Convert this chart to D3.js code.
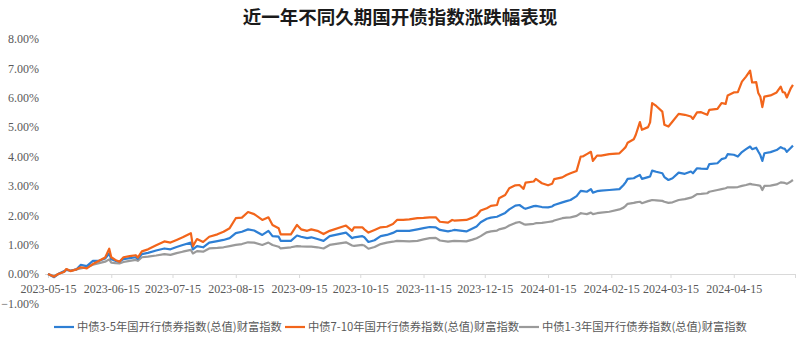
<!DOCTYPE html>
<html><head><meta charset="utf-8">
<script src="https://cdn.jsdelivr.net/npm/d3@7"></script>
<style>
html,body{margin:0;padding:0;background:#fff;}
svg{display:block;}
</style></head>
<body>
<svg id="chart" width="800" height="347"></svg>
<script>
const title = "近一年不同久期国开债指数涨跌幅表现";
const seriesNames = ["中债3-5年国开行债券指数(总值)财富指数","中债7-10年国开行债券指数(总值)财富指数","中债1-3年国开行债券指数(总值)财富指数"];
const seriesColors = ["#2E7FD4","#F2651B","#9A9A9A"];
const yTicks = [-1,0,1,2,3,4,5,6,7,8];
const xTickLabels = ["2023-05-15","2023-06-15","2023-07-15","2023-08-15","2023-09-15","2023-10-15","2023-11-15","2023-12-15","2024-01-15","2024-02-15","2024-03-15","2024-04-15","2024-05-15"];
const dates = ["2023-05-15","2023-05-18","2023-05-20","2023-05-23","2023-05-24","2023-05-26","2023-05-29","2023-05-31","2023-06-03","2023-06-06","2023-06-09","2023-06-12","2023-06-14","2023-06-15","2023-06-17","2023-06-19","2023-06-21","2023-06-24","2023-06-27","2023-06-28","2023-06-30","2023-07-03","2023-07-07","2023-07-11","2023-07-14","2023-07-17","2023-07-20","2023-07-24","2023-07-25","2023-07-27","2023-07-30","2023-08-02","2023-08-06","2023-08-09","2023-08-12","2023-08-15","2023-08-18","2023-08-21","2023-08-24","2023-08-28","2023-08-31","2023-09-02","2023-09-05","2023-09-06","2023-09-11","2023-09-14","2023-09-16","2023-09-19","2023-09-21","2023-09-24","2023-09-27","2023-09-30","2023-10-08","2023-10-11","2023-10-12","2023-10-16","2023-10-17","2023-10-19","2023-10-22","2023-10-25","2023-10-28","2023-10-31","2023-11-02","2023-11-05","2023-11-08","2023-11-12","2023-11-15","2023-11-18","2023-11-21","2023-11-23","2023-11-27","2023-11-29","2023-11-30","2023-12-06","2023-12-09","2023-12-11","2023-12-13","2023-12-16","2023-12-18","2023-12-21","2023-12-22","2023-12-25","2023-12-27","2023-12-30","2024-01-01","2024-01-03","2024-01-04","2024-01-08","2024-01-09","2024-01-12","2024-01-15","2024-01-17","2024-01-18","2024-01-22","2024-01-24","2024-01-26","2024-01-29","2024-01-31","2024-02-01","2024-02-03","2024-02-05","2024-02-06","2024-02-08","2024-02-10","2024-02-14","2024-02-19","2024-02-21","2024-02-22","2024-02-23","2024-02-26","2024-02-27","2024-02-29","2024-03-01","2024-03-04","2024-03-05","2024-03-06","2024-03-08","2024-03-11","2024-03-12","2024-03-14","2024-03-16","2024-03-19","2024-03-22","2024-03-25","2024-03-26","2024-03-28","2024-03-30","2024-04-02","2024-04-03","2024-04-07","2024-04-09","2024-04-11","2024-04-12","2024-04-15","2024-04-17","2024-04-19","2024-04-21","2024-04-23","2024-04-24","2024-04-26","2024-04-27","2024-04-28","2024-04-29","2024-04-30","2024-05-03","2024-05-06","2024-05-08","2024-05-09","2024-05-10","2024-05-11","2024-05-13","2024-05-14"];
const values35 = [0,-0.11,0,0.10,0.14,0.11,0.16,0.31,0.27,0.45,0.45,0.53,0.70,0.50,0.45,0.42,0.51,0.54,0.57,0.52,0.68,0.72,0.80,0.87,0.84,0.92,0.99,1.07,0.84,0.95,0.91,1.07,1.12,1.16,1.22,1.39,1.44,1.52,1.48,1.33,1.47,1.29,1.27,1.13,1.13,1.31,1.27,1.22,1.25,1.19,1.13,1.29,1.41,1.22,1.25,1.29,1.25,1.09,1.15,1.29,1.33,1.40,1.47,1.47,1.47,1.52,1.56,1.60,1.59,1.50,1.45,1.48,1.50,1.45,1.55,1.62,1.76,1.88,1.92,1.95,1.98,2.08,2.20,2.33,2.35,2.25,2.22,2.31,2.32,2.28,2.27,2.30,2.35,2.44,2.48,2.52,2.65,2.83,2.82,2.80,2.89,2.77,2.82,2.84,2.86,2.89,3.03,3.12,3.24,3.26,3.30,3.37,3.24,3.30,3.32,3.52,3.48,3.43,3.30,3.20,3.26,3.45,3.41,3.49,3.43,3.60,3.59,3.58,3.74,3.77,3.91,3.95,4.08,4.06,4.00,4.15,4.25,4.34,4.25,4.30,4.17,4.05,3.85,4.11,4.15,4.22,4.32,4.28,4.26,4.16,4.30,4.37];
const values710 = [0,-0.09,0,0.08,0.17,0.10,0.16,0.23,0.19,0.34,0.45,0.56,0.86,0.57,0.48,0.42,0.57,0.61,0.64,0.56,0.77,0.84,0.98,1.11,1.07,1.16,1.25,1.39,0.95,1.19,1.09,1.27,1.35,1.44,1.56,1.90,1.92,2.11,2.04,1.84,1.93,1.67,1.56,1.35,1.35,1.67,1.52,1.47,1.52,1.47,1.36,1.47,1.65,1.47,1.59,1.59,1.52,1.41,1.50,1.59,1.61,1.70,1.84,1.84,1.86,1.90,1.91,1.93,1.93,1.78,1.75,1.84,1.82,1.84,1.92,1.99,2.16,2.24,2.32,2.35,2.58,2.69,2.92,3.02,3.03,2.90,3.11,3.15,3.24,3.09,3.02,3.07,3.23,3.29,3.37,3.43,3.51,4.00,4.00,4.08,4.16,3.85,4.03,4.03,4.08,4.11,4.25,4.32,4.47,4.59,4.74,5.17,4.91,5.00,5.16,5.82,5.72,5.53,5.08,5.02,5.19,5.45,5.42,5.36,5.28,5.50,5.51,5.42,5.59,5.62,5.82,5.79,6.08,6.18,6.19,6.55,6.72,6.92,6.52,6.53,6.16,6.04,5.68,6.04,6.08,6.18,6.38,6.19,6.18,6.01,6.33,6.44];
const values13 = [0,-0.07,0,0.08,0.16,0.11,0.16,0.19,0.23,0.32,0.37,0.42,0.50,0.39,0.37,0.36,0.41,0.45,0.48,0.45,0.57,0.59,0.63,0.68,0.65,0.71,0.76,0.82,0.70,0.78,0.76,0.87,0.89,0.91,0.95,0.99,1.02,1.08,1.07,0.99,1.07,0.99,0.93,0.87,0.91,0.95,0.94,0.93,0.93,0.91,0.87,0.99,1.08,0.97,0.96,0.99,0.97,0.86,0.92,1.02,1.07,1.10,1.13,1.12,1.11,1.13,1.18,1.22,1.23,1.14,1.10,1.12,1.13,1.11,1.17,1.22,1.29,1.42,1.45,1.48,1.52,1.57,1.65,1.74,1.77,1.70,1.68,1.71,1.73,1.74,1.77,1.79,1.82,1.90,1.92,1.93,1.98,2.07,2.06,2.04,2.09,2.04,2.07,2.09,2.12,2.20,2.26,2.32,2.39,2.42,2.44,2.46,2.41,2.48,2.50,2.52,2.51,2.49,2.46,2.42,2.44,2.52,2.55,2.60,2.63,2.72,2.73,2.75,2.80,2.86,2.89,2.92,2.95,2.95,2.96,3.00,3.03,3.07,3.05,3.03,3.02,3.00,2.86,3.00,3.01,3.05,3.12,3.11,3.10,3.07,3.15,3.20];

const parse = d3.timeParse("%Y-%m-%d");
const svg = d3.select("#chart");
const x = d3.scaleTime().domain([parse("2023-05-15"), parse("2024-05-15")]).range([48, 795]);
const y = d3.scaleLinear().domain([-1, 8]).range([303.4, 39]);

// title
svg.append("text").attr("x", 400).attr("y", 24).attr("text-anchor", "middle")
  .attr("font-family", "'Noto Sans CJK SC', sans-serif").attr("font-weight", "bold")
  .attr("font-size", 18.5).attr("fill", "#1a1a1a").text(title);

// y axis labels
const yAxis = d3.axisLeft(y).tickValues(yTicks).tickSize(0).tickPadding(0)
  .tickFormat(d => d3.format(".2f")(d) + "%");
const gy = svg.append("g").attr("transform", "translate(39,0)").call(yAxis);
gy.select(".domain").remove();
gy.selectAll("text").attr("font-family", "'Liberation Serif', serif").attr("font-size", 12).attr("fill", "#595959");

// x axis at 0
const xAxis = d3.axisBottom(x).tickValues(xTickLabels.map(parse)).tickSize(4).tickPadding(6)
  .tickFormat((d, i) => i < xTickLabels.length - 1 ? xTickLabels[i] : "");
const gx = svg.append("g").attr("transform", `translate(0,${y(0)})`).call(xAxis);
gx.select(".domain").attr("d", `M45,0.5H795`).attr("stroke", "#d9d9d9");
gx.selectAll(".tick line").attr("stroke", "#d9d9d9");
gx.selectAll("text").attr("font-family", "'Liberation Serif', serif").attr("font-size", 12).attr("fill", "#595959");

// lines
const series = [values35, values710, values13];
const line = d3.line().x((d, i) => x(parse(dates[i]))).y(d => y(d));
// draw gray, blue, orange order (orange on top)
[2, 0, 1].forEach(k => {
  svg.append("path").datum(series[k]).attr("d", line).attr("fill", "none")
    .attr("stroke", seriesColors[k]).attr("stroke-width", 2.2).attr("stroke-linejoin", "round");
});

// legend
const lgX = [54, 285, 519];
const lg = svg.append("g");
seriesNames.forEach((n, i) => {
  lg.append("line").attr("x1", lgX[i]).attr("x2", lgX[i] + 20).attr("y1", 327).attr("y2", 327)
    .attr("stroke", seriesColors[i]).attr("stroke-width", 2.2);
  lg.append("text").attr("x", lgX[i] + 23).attr("y", 331).attr("font-size", 11.3)
    .attr("font-family", "'Noto Sans CJK SC', sans-serif").attr("fill", "#595959").text(n);
});
</script>
</body></html>
